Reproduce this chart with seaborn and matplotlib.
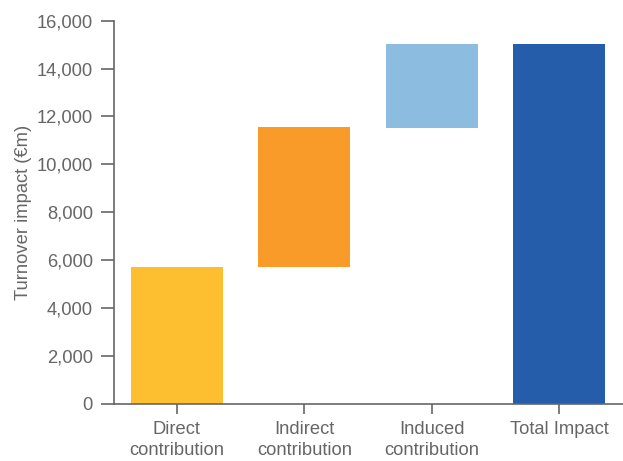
import matplotlib
matplotlib.use("Agg")
import matplotlib.pyplot as plt
import seaborn as sns
import pandas as pd

categories = ["Direct\ncontribution", "Indirect\ncontribution", "Induced\ncontribution", "Total Impact"]
bar_bottoms = [0, 5710, 11520, 0]
bar_tops = [5710, 11560, 15020, 15020]
colors = ["#FDBF2F", "#F99B28", "#8CBCE0", "#265DAB"]
y_ticks = [0, 2000, 4000, 6000, 8000, 10000, 12000, 14000, 16000]

sns.set_style("white")
plt.rcParams["font.family"] = ["Liberation Sans", "DejaVu Sans"]

df = pd.DataFrame({"cat": categories, "top": bar_tops, "bottom": bar_bottoms})

fig = plt.figure(figsize=(6.23, 4.61), dpi=100)
ax = fig.add_axes([0.1835, 0.1243, 0.8165, 0.8307])

sns.barplot(data=df, x="cat", y="top", hue="cat", palette=colors, legend=False,
            width=0.725, saturation=1, ax=ax, linewidth=0)

for patch, b, t in zip(ax.patches, df["bottom"], df["top"]):
    patch.set_y(b)
    patch.set_height(t - b)

gray = "#666666"
ax.set_xlim(-0.49, 3.5)
ax.set_ylim(0, 16000)
ax.set_yticks(y_ticks)
ax.set_yticklabels([f"{v:,}" for v in y_ticks])
ax.set_xlabel("")
ax.set_ylabel("Turnover impact (€m)", fontsize=13.2, color=gray, labelpad=3)

for s in ["top", "right"]:
    ax.spines[s].set_visible(False)
for s in ["left", "bottom"]:
    ax.spines[s].set_color(gray)
    ax.spines[s].set_linewidth(1.2)

ax.tick_params(axis="y", direction="out", length=9.5, width=1.2, color=gray,
               labelcolor=gray, labelsize=13.2, pad=6, left=True)
ax.tick_params(axis="x", direction="out", length=7.5, width=1.2, color=gray,
               labelcolor=gray, labelsize=13.2, pad=5, bottom=True)
for lbl in ax.get_xticklabels():
    lbl.set_linespacing(1.3)

fig.savefig("out.png", dpi=100)
